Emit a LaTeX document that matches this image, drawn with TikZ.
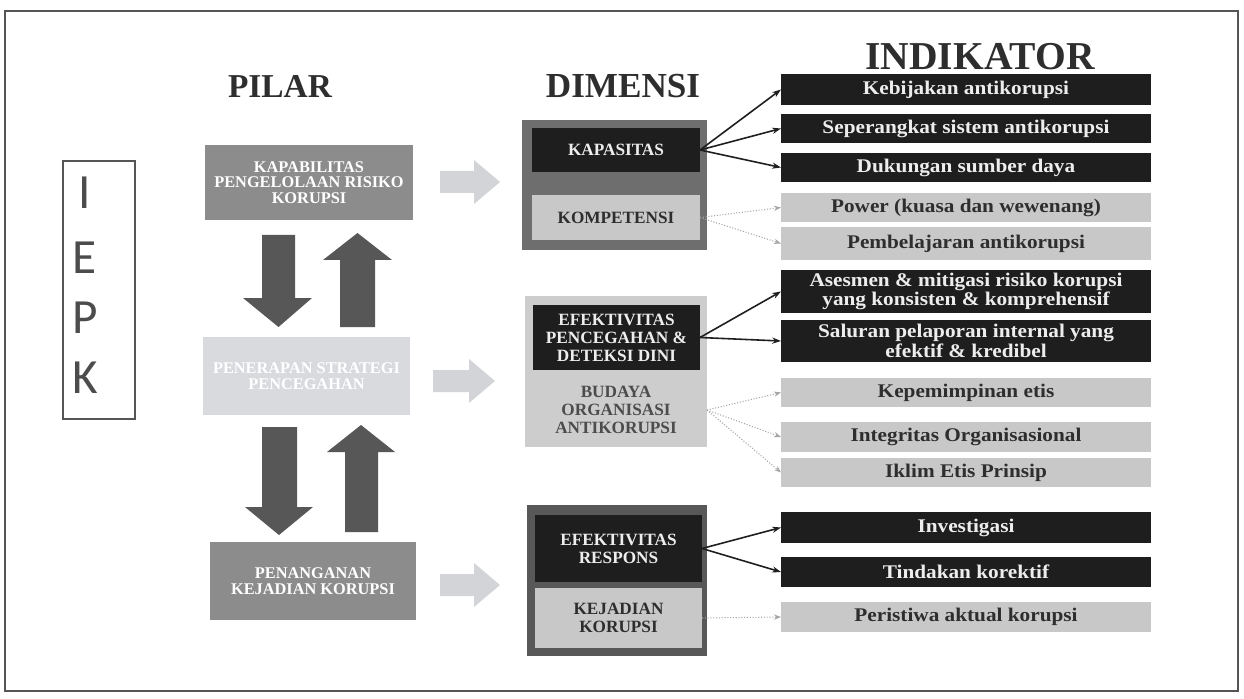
\documentclass[tikz,border=0pt]{standalone}
\usepackage{fontspec}
\setmainfont{Liberation Serif}
\newfontfamily\sansf{Carlito}
\newfontfamily\indf[FakeStretch=1.1]{Liberation Serif}
\usetikzlibrary{arrows.meta}
\definecolor{frame}{HTML}{555555}
\definecolor{pdark}{HTML}{8C8C8C}
\definecolor{plight}{HTML}{D9DADE}
\definecolor{vblk}{HTML}{575757}
\definecolor{harr}{HTML}{D3D4D8}
\definecolor{g1c}{HTML}{6E6E6E}
\definecolor{g2c}{HTML}{CDCDCD}
\definecolor{g3c}{HTML}{585858}
\definecolor{blk}{HTML}{1E1E1E}
\definecolor{lgt}{HTML}{C8C8C8}
\definecolor{dtxt}{HTML}{2E2E2E}
\definecolor{wtxt}{HTML}{EDEDED}
\tikzset{
  x=0.02cm, y=-0.02cm,
  box/.style n args={4}{at={({(#1+#3)/2},{(#2+#4)/2})}, minimum width={(#3-#1)*0.02cm}, minimum height={(#4-#2)*0.02cm}, inner sep=0, outer sep=0},
  header/.style={font=\fontsize{19}{19}\selectfont\bfseries, text=dtxt, inner sep=0, anchor=base},
  pillar/.style={align=center, text=white, font=\fontsize{9.3}{9}\selectfont\bfseries},
  dimdark/.style={fill=blk, align=center, text=wtxt, font=\fontsize{9.8}{10.2}\selectfont\bfseries},
  dimlight/.style={fill=lgt, align=center, text=dtxt, font=\fontsize{9.8}{10.2}\selectfont\bfseries},
  inddark/.style={fill=blk, align=center, text=wtxt, font=\indf\fontsize{11}{9.6}\selectfont\bfseries},
  indlight/.style={fill=lgt, align=center, text=dtxt, font=\indf\fontsize{11}{9.6}\selectfont\bfseries},
  con/.style={draw=blk, line width=0.9pt, -{Stealth[length=5pt,width=3.5pt]}},
  conlight/.style={draw=black!35, line width=0.6pt, densely dotted, -{Stealth[length=4pt,width=3pt]}},
}
\begin{document}
\begin{tikzpicture}
\useasboundingbox (0,0) rectangle (1244,699);
\fill[white] (0,0) rectangle (1244,699);
\draw[frame, line width=1.1pt] (5,11) rectangle (1238,691);

% headers
\node[header] (hpil) at (280,98) {PILAR};
\node[header, font=\fontsize{20}{20}\selectfont\bfseries] (hdim) at (623,98) {DIMENSI};
\node[header, font=\fontsize{22.5}{22.5}\selectfont\bfseries] (hind) at (980,70) {INDIKATOR};

% IEPK
\node[draw=frame, line width=0.9pt, box={63}{161}{135}{419}] (iepk) {};
\foreach \l/\yy in {I/193,E/258,P/318,K/378}
  \node[font=\sansf\fontsize{28}{28}\selectfont, text=black!70] at (85,\yy) {\l};

% pillars
\node[pillar, fill=pdark, box={205}{145}{413}{220}] (p1) {KAPABILITAS\\PENGELOLAAN RISIKO\\KORUPSI};
\node[pillar, fill=plight, box={203}{337}{410}{415}] (p2) {PENERAPAN STRATEGI\\PENCEGAHAN};
\node[pillar, fill=pdark, box={210}{542}{416}{620}] (p3) {PENANGANAN\\KEJADIAN KORUPSI};

% vertical block arrows
\fill[vblk] (262,235) -- (295,235) -- (295,298) -- (312,298) -- (278.5,327) -- (243,298) -- (262,298) -- cycle;
\fill[vblk] (340,327) -- (375,327) -- (375,260) -- (392,260) -- (357.5,233) -- (323,260) -- (340,260) -- cycle;
\fill[vblk] (262,427) -- (297,427) -- (297,507) -- (313,507) -- (279,535) -- (245,507) -- (262,507) -- cycle;
\fill[vblk] (345,532) -- (378,532) -- (378,452) -- (395,452) -- (361,425) -- (327,452) -- (345,452) -- cycle;

% horizontal light arrows
\foreach \xa/\xb/\c in {440/500/182, 433/495/381, 440/500/585}
  \fill[harr] (\xa,\c-11) -- (\xb-26,\c-11) -- (\xb-26,\c-22) -- (\xb,\c) -- (\xb-26,\c+22) -- (\xb-26,\c+11) -- (\xa,\c+11) -- cycle;

% dimension groups
\node[fill=g1c, box={522}{120}{707}{250}] (g1) {};
\node[dimdark, box={532}{128}{700}{172}] (kap) {KAPASITAS};
\node[dimlight, box={532}{195}{700}{240}] (kom) {KOMPETENSI};

\node[fill=g2c, box={525}{296}{707}{447}] (g2) {};
\node[dimdark, box={533}{305}{700}{370}] (efp) {EFEKTIVITAS\\PENCEGAHAN \&\\DETEKSI DINI};
\node[inner sep=0, align=center, text=black!70, font=\fontsize{9.8}{10.2}\selectfont\bfseries] (bud) at (616,410) {BUDAYA\\ORGANISASI\\ANTIKORUPSI};
\coordinate (budr) at (g2.east |- bud);

\node[fill=g3c, box={527}{505}{707}{656}] (g3) {};
\node[dimdark, box={535}{515}{702}{582}] (efr) {EFEKTIVITAS\\RESPONS};
\node[dimlight, box={535}{588}{702}{648}] (kej) {KEJADIAN\\KORUPSI};

% indicators
\node[inddark, box={781}{74}{1151}{105}] (k1) {Kebijakan antikorupsi};
\node[inddark, box={781}{114}{1151}{143}] (k2) {Seperangkat sistem antikorupsi};
\node[inddark, box={781}{153}{1151}{182}] (k3) {Dukungan sumber daya};
\node[indlight, box={781}{193}{1151}{222}] (k4) {Power (kuasa dan wewenang)};
\node[indlight, box={781}{227}{1151}{260}] (k5) {Pembelajaran antikorupsi};
\node[inddark, box={781}{270}{1151}{313}] (a1) {Asesmen \& mitigasi risiko korupsi\\yang konsisten \& komprehensif};
\node[inddark, box={781}{320}{1151}{362}] (a2) {Saluran pelaporan internal yang\\efektif \& kredibel};
\node[indlight, box={781}{378}{1151}{407}] (a3) {Kepemimpinan etis};
\node[indlight, box={781}{422}{1151}{452}] (a4) {Integritas Organisasional};
\node[indlight, box={781}{458}{1151}{487}] (a5) {Iklim Etis Prinsip};
\node[inddark, box={781}{512}{1151}{543}] (r1) {Investigasi};
\node[inddark, box={781}{557}{1151}{587}] (r2) {Tindakan korektif};
\node[indlight, box={781}{602}{1151}{632}] (r3) {Peristiwa aktual korupsi};

% connectors
\draw[con] (kap.east) -- (k1.west);
\draw[con] (kap.east) -- (k2.west);
\draw[con] (kap.east) -- (k3.west);
\draw[conlight] (kom.east) -- (k4.west);
\draw[conlight] (kom.east) -- (k5.west);
\draw[con] (efp.east) -- (a1.west);
\draw[con] (efp.east) -- (a2.west);
\draw[conlight] (budr) -- (a3.west);
\draw[conlight] (budr) -- (a4.west);
\draw[conlight] (budr) -- (a5.west);
\draw[con] (efr.east) -- (r1.west);
\draw[con] (efr.east) -- (r2.west);
\draw[conlight] (kej.east) -- (r3.west);
\end{tikzpicture}
\end{document}
